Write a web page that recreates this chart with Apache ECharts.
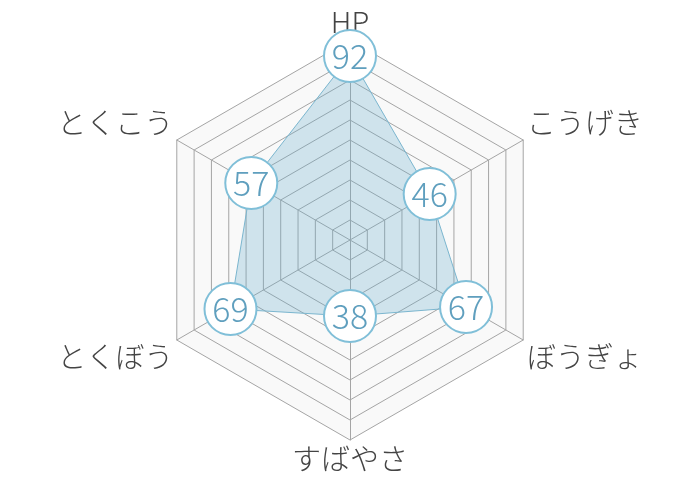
<!DOCTYPE html>
<html>
<head>
<meta charset="utf-8">
<script src="https://cdn.jsdelivr.net/npm/echarts@6/dist/echarts.min.js"></script>
<style>html,body{margin:0;padding:0;background:#fff}#c{width:700px;height:480px}</style>
</head>
<body>
<div id="c"></div>
<script>
// indicators in ECharts order (starting at top, going counterclockwise)
var categories = ['HP', 'とくこう', 'とくぼう', 'すばやさ', 'ぼうぎょ', 'こうげき'];
var values = [92, 57, 69, 38, 67, 46];
var maxValue = 100;
var upperNames = ['とくこう', 'こうげき'];
var lowerNames = ['とくぼう', 'ぼうぎょ'];

var chart = echarts.init(document.getElementById('c'));
chart.setOption({
  animation: false,
  backgroundColor: '#fff',
  radar: {
    center: [350, 240],
    radius: 200,
    splitNumber: 10,
    nameGap: 4,
    indicator: categories.map(function (n) { return { name: n, max: maxValue }; }),
    axisName: {
      color: '#444', fontSize: 29, fontWeight: 300, fontFamily: 'Noto Sans CJK JP',
      formatter: function (n) {
        if (upperNames.indexOf(n) >= 0) return '{up|' + n + '}';
        if (lowerNames.indexOf(n) >= 0) return '{down|' + n + '}';
        return n;
      },
      rich: {
        up: { color: '#444', fontSize: 29, fontWeight: 300, fontFamily: 'Noto Sans CJK JP', padding: [0, 0, 30, 0] },
        down: { color: '#444', fontSize: 29, fontWeight: 300, fontFamily: 'Noto Sans CJK JP', padding: [30, 0, 0, 0] }
      }
    },
    splitArea: { show: true, areaStyle: { color: ['#f9f9f9'] } },
    splitLine: { lineStyle: { color: '#a5a5a5', width: 1 } },
    axisLine: { lineStyle: { color: '#a5a5a5', width: 1 } }
  },
  series: [{
    type: 'radar',
    symbol: 'circle',
    symbolSize: 52,
    itemStyle: { color: '#fff', borderColor: '#80bfd8', borderWidth: 2 },
    lineStyle: { color: '#7fb8d0', width: 1 },
    areaStyle: { color: 'rgba(105,175,205,0.42)' },
    label: { show: true, position: 'inside', color: '#5f9fbe', fontSize: 34, fontWeight: 300, fontFamily: 'Noto Sans CJK JP' },
    data: [{ value: values }]
  }]
});
</script>
</body>
</html>
